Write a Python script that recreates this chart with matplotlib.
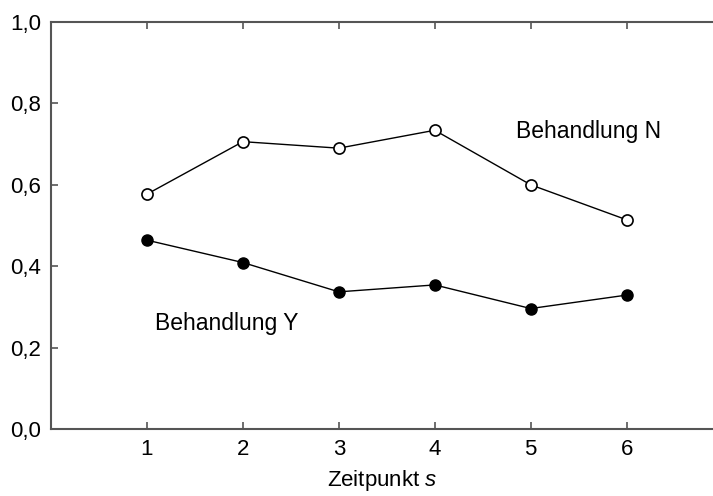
import matplotlib
matplotlib.use("Agg")
import matplotlib.pyplot as plt

plt.rcParams['font.family'] = ['Liberation Sans', 'DejaVu Sans']
plt.rcParams['mathtext.fontset'] = 'custom'
plt.rcParams['mathtext.rm'] = 'Liberation Sans'
plt.rcParams['mathtext.it'] = 'Liberation Sans:italic'

zeitpunkt = [1, 2, 3, 4, 5, 6]
behandlung_n = [0.577, 0.706, 0.690, 0.734, 0.600, 0.514]
behandlung_y = [0.464, 0.409, 0.337, 0.354, 0.296, 0.329]
y_ticks = [0.0, 0.2, 0.4, 0.6, 0.8, 1.0]
y_labels = ["0,0", "0,2", "0,4", "0,6", "0,8", "1,0"]

fig = plt.figure(figsize=(7.13, 4.96), dpi=100)
ax = fig.add_axes([51 / 713, 67 / 496, 662 / 713, 407 / 496])

ax.plot(zeitpunkt, behandlung_n, color='black', lw=1, marker='o', ms=8,
        mfc='white', mec='black', mew=1.2, clip_on=False)
ax.plot(zeitpunkt, behandlung_y, color='black', lw=1, marker='o', ms=8,
        mfc='black', mec='black', clip_on=False)

ax.text(4.85, 0.73, "Behandlung N", fontsize=16.5, va='center', ha='left')
ax.text(1.08, 0.26, "Behandlung Y", fontsize=16.5, va='center', ha='left')

ax.set_xlim(0, 6.9)
ax.set_ylim(0, 1.0)
ax.set_xticks(zeitpunkt)
ax.set_yticks(y_ticks)
ax.set_yticklabels(y_labels)
ax.tick_params(direction='in', length=5, width=1.2, color='#555555',
               labelsize=16, pad=7, top=True)
ax.set_xlabel("Zeitpunkt $\\it{s}$", fontsize=16, labelpad=6)

for side in ['left', 'top', 'bottom']:
    ax.spines[side].set_color('#555555')
    ax.spines[side].set_linewidth(1.5)
ax.spines['right'].set_visible(False)

fig.savefig("out.png", dpi=100)
